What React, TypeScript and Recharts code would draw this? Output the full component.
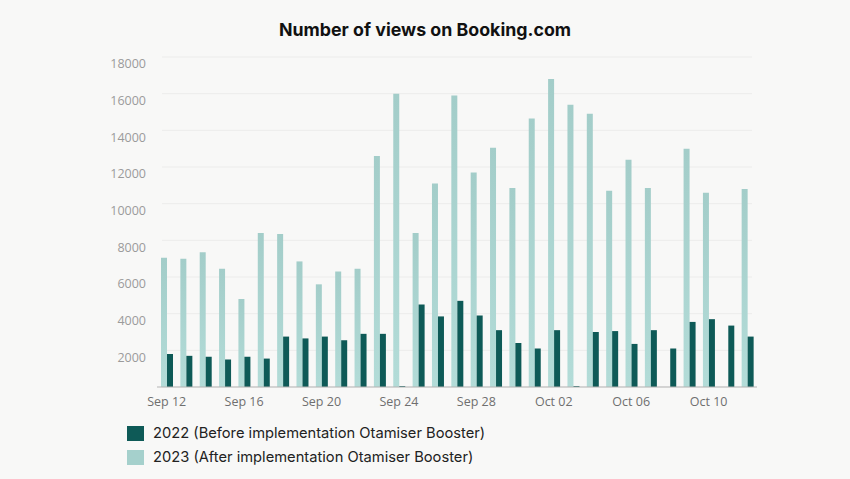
import React from 'react';
import { BarChart, Bar, XAxis, YAxis, CartesianGrid } from 'recharts';

const dates = [
  'Sep 12', 'Sep 13', 'Sep 14', 'Sep 15', 'Sep 16', 'Sep 17', 'Sep 18', 'Sep 19', 'Sep 20', 'Sep 21',
  'Sep 22', 'Sep 23', 'Sep 24', 'Sep 25', 'Sep 26', 'Sep 27', 'Sep 28', 'Sep 29', 'Sep 30', 'Oct 01',
  'Oct 02', 'Oct 03', 'Oct 04', 'Oct 05', 'Oct 06', 'Oct 07', 'Oct 08', 'Oct 09', 'Oct 10', 'Oct 11',
  'Oct 12',
];

const views2023 = [
  7050, 7000, 7350, 6450, 4800, 8400, 8350, 6850, 5600, 6300,
  6450, 12600, 16000, 8400, 11100, 15900, 11700, 13050, 10850, 14650,
  16800, 15400, 14900, 10700, 12400, 10850, 0, 13000, 10600, 0,
  10800,
];

const views2022 = [
  1800, 1700, 1650, 1500, 1650, 1550, 2750, 2650, 2750, 2550,
  2900, 2900, 50, 4500, 3850, 4700, 3900, 3100, 2400, 2100,
  3100, 50, 3000, 3050, 2350, 3100, 2100, 3550, 3700, 3350,
  2750,
];

const yTicks = [0, 2000, 4000, 6000, 8000, 10000, 12000, 14000, 16000, 18000];

const title = 'Number of views on Booking.com';
const name2022 = '2022 (Before implementation Otamiser Booster)';
const name2023 = '2023 (After implementation Otamiser Booster)';

const DARK = '#0e5a57';
const LIGHT = '#a5d0cc';

const data = dates.map((d, i) => ({ date: d, v2023: views2023[i], v2022: views2022[i] }));

const legendItems = [
  { name: name2022, color: DARK },
  { name: name2023, color: LIGHT },
];

export default function App() {
  return (
    <div style={{ position: 'relative', width: 850, height: 479, background: '#f8f8f7', overflow: 'hidden' }}>
      <style>{`body{margin:0;}`}</style>
      <div
        style={{
          position: 'absolute',
          top: 18,
          left: 0,
          width: 850,
          textAlign: 'center',
          fontFamily: 'Inter, sans-serif',
          fontWeight: 700,
          fontSize: 17.8,
          color: '#111',
          lineHeight: '24px',
        }}
      >
        {title}
      </div>
      <BarChart
        width={850}
        height={479}
        data={data}
        margin={{ top: 57, right: 93, bottom: 62, left: 0 }}
        barSize={6}
        barGap={0}
      >
        <defs>
          <linearGradient id="lightGrad" x1="0" y1="0" x2="0" y2="1">
            <stop offset="0%" stopColor="#a3cdc9" />
            <stop offset="100%" stopColor="#b3dcd8" />
          </linearGradient>
        </defs>
        <CartesianGrid vertical={false} stroke="#ececeb" x={162} width={590} />
        <XAxis
          dataKey="date"
          interval={3}
          tickLine={false}
          axisLine={{ stroke: '#b5b5b5' }}
          height={30}
          tickMargin={4}
          tick={{ fill: '#6f6f6f', fontSize: 12.5, fontFamily: '"Open Sans", sans-serif' }}
        />
        <YAxis
          width={157}
          domain={[0, 18000]}
          ticks={yTicks}
          tickLine={false}
          axisLine={false}
          tickMargin={5}
          tickFormatter={(v: number) => (v === 0 ? '' : String(v))}
          tick={{ fill: '#9b9b9b', fontSize: 12.5, fontFamily: '"Open Sans", sans-serif', dy: 7 }}
        />
        <Bar dataKey="v2023" name={name2023} fill="url(#lightGrad)" isAnimationActive={false} />
        <Bar dataKey="v2022" name={name2022} fill={DARK} isAnimationActive={false} />
      </BarChart>
      <div style={{ position: 'absolute', left: 127, top: 421 }}>
        {legendItems.map((it) => (
          <div
            key={it.name}
            style={{
              display: 'flex',
              alignItems: 'center',
              height: 24,
              fontFamily: 'Inter, sans-serif',
              fontSize: 14.7,
              color: '#222',
            }}
          >
            <span style={{ display: 'inline-block', width: 17, height: 15, background: it.color, marginRight: 9 }} />
            <span>{it.name}</span>
          </div>
        ))}
      </div>
    </div>
  );
}
